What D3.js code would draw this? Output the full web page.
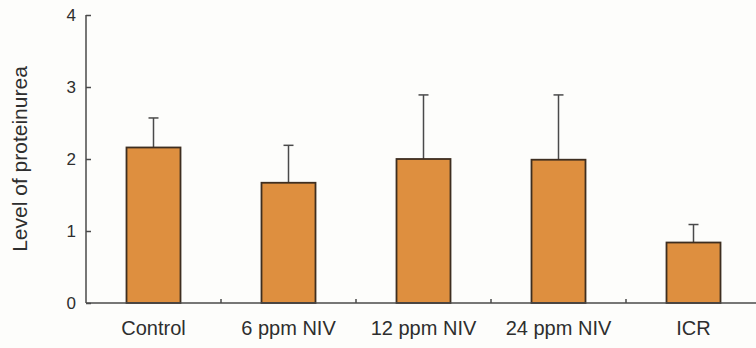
<!DOCTYPE html>
<html>
<head>
<meta charset="utf-8">
<script src="https://cdn.jsdelivr.net/npm/d3@7"></script>
<style>
  body { margin: 0; background: #fdfdfb; }
  svg { display: block; font-family: "Liberation Sans", Arial, sans-serif; }
</style>
</head>
<body>
<script>
// data
var categories = ["Control", "6 ppm NIV", "12 ppm NIV", "24 ppm NIV", "ICR"];
var means = [2.16, 1.67, 2.00, 1.99, 0.84];
var errors = [0.41, 0.52, 0.89, 0.90, 0.25];
var yTicks = [0, 1, 2, 3, 4];

var W = 756, H = 348;
var margin = { top: 15, right: -5, bottom: 45, left: 86 };

var svg = d3.select("body").append("svg")
    .attr("width", W)
    .attr("height", H);

var x = d3.scaleBand()
    .domain(categories)
    .range([margin.left, W - margin.right])
    .paddingInner(0.6)
    .paddingOuter(0.3);

var y = d3.scaleLinear()
    .domain([0, 4])
    .range([H - margin.bottom, margin.top]);

var axisColor = "#4a4a4a";
var textColor = "#2e2e2e";

var data = categories.map(function (c, i) {
    return { cat: c, mean: means[i], err: errors[i] };
});

// error bars (behind bars)
var eb = svg.append("g").attr("stroke", axisColor).attr("stroke-width", 1.5);
eb.selectAll("line.v").data(data).enter().append("line")
    .attr("x1", function (d) { return x(d.cat) + x.bandwidth() / 2; })
    .attr("x2", function (d) { return x(d.cat) + x.bandwidth() / 2; })
    .attr("y1", function (d) { return y(d.mean); })
    .attr("y2", function (d) { return y(d.mean + d.err); });
eb.selectAll("line.c").data(data).enter().append("line")
    .attr("x1", function (d) { return x(d.cat) + x.bandwidth() / 2 - 5; })
    .attr("x2", function (d) { return x(d.cat) + x.bandwidth() / 2 + 5; })
    .attr("y1", function (d) { return y(d.mean + d.err); })
    .attr("y2", function (d) { return y(d.mean + d.err); });

// bars
svg.append("g").selectAll("rect").data(data).enter().append("rect")
    .attr("x", function (d) { return x(d.cat); })
    .attr("y", function (d) { return y(d.mean); })
    .attr("width", x.bandwidth())
    .attr("height", function (d) { return y(0) - y(d.mean); })
    .attr("fill", "#de8f3f")
    .attr("stroke", "#3e2e20")
    .attr("stroke-width", 1.8);

// y axis
var yAxis = svg.append("g")
    .attr("transform", "translate(" + margin.left + ",0)")
    .call(d3.axisRight(y).tickValues(yTicks).tickSize(5).tickFormat(""));
yAxis.select(".domain").attr("d", "M0," + y(4) + "V" + y(0)).attr("stroke", axisColor).attr("stroke-width", 1.5);
yAxis.selectAll(".tick line").attr("stroke", axisColor).attr("stroke-width", 1.5);

svg.append("g").selectAll("text").data(yTicks).enter().append("text")
    .attr("x", 76)
    .attr("y", function (d) { return y(d); })
    .attr("dy", "0.36em")
    .attr("text-anchor", "end")
    .attr("font-size", 17)
    .attr("fill", textColor)
    .text(function (d) { return d; });

// x axis
svg.append("line")
    .attr("x1", margin.left).attr("x2", W)
    .attr("y1", y(0)).attr("y2", y(0))
    .attr("stroke", axisColor).attr("stroke-width", 1.5);

// small separators between categories
var seps = categories.slice(1).map(function (c) { return x(c) - x.step() * x.paddingInner() / 2; });
svg.append("g").selectAll("line").data(seps).enter().append("line")
    .attr("x1", function (d) { return d; }).attr("x2", function (d) { return d; })
    .attr("y1", y(0)).attr("y2", y(0) - 4)
    .attr("stroke", axisColor).attr("stroke-width", 1.5);

svg.append("g").selectAll("text").data(categories).enter().append("text")
    .attr("x", function (d) { return x(d) + x.bandwidth() / 2; })
    .attr("y", 335)
    .attr("text-anchor", "middle")
    .attr("font-size", 20)
    .attr("fill", textColor)
    .text(function (d) { return d; });

// y label
svg.append("text")
    .attr("transform", "translate(27," + 159 + ") rotate(-90)")
    .attr("text-anchor", "middle")
    .attr("font-size", 21)
    .attr("fill", textColor)
    .text("Level of proteinurea");
</script>
</body>
</html>
